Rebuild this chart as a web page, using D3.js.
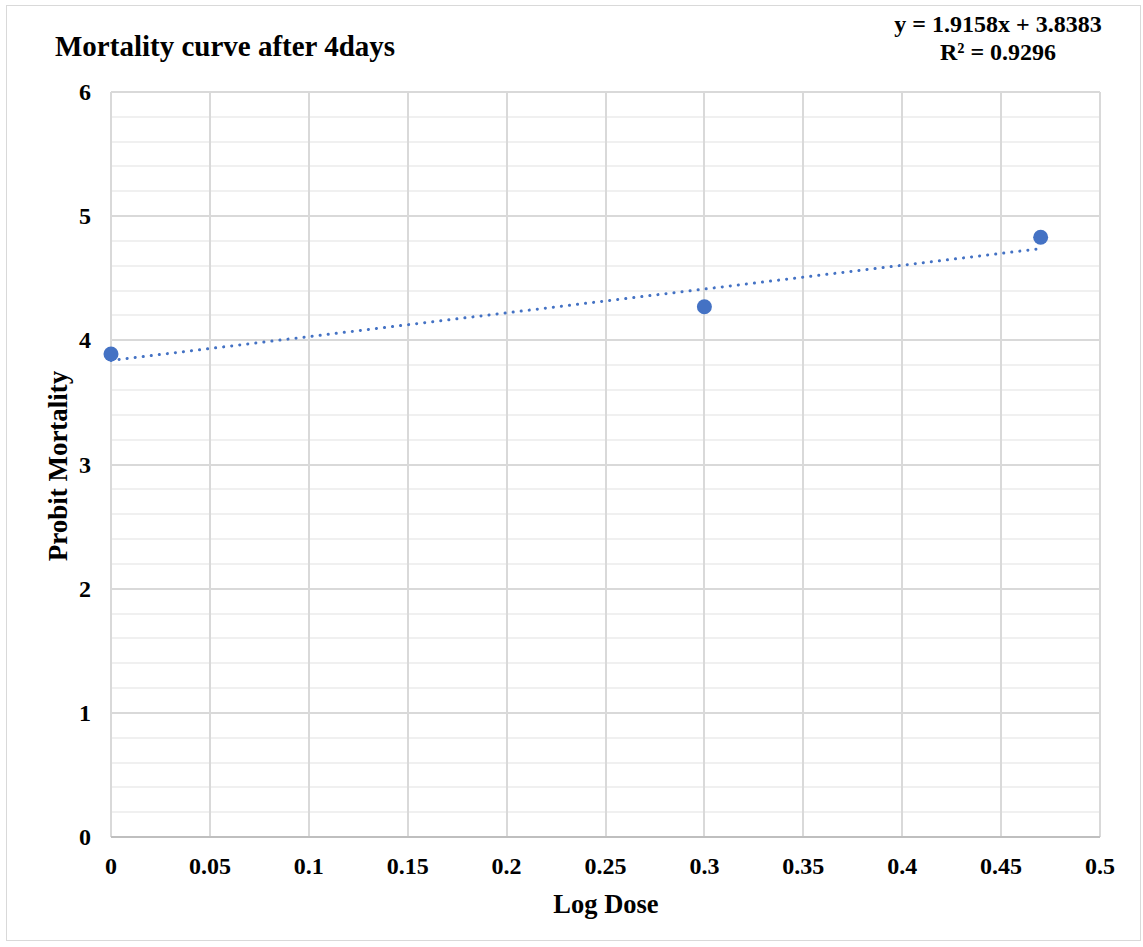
<!DOCTYPE html>
<html>
<head>
<meta charset="utf-8">
<script src="https://cdn.jsdelivr.net/npm/d3@7"></script>
<style>
  body { margin: 0; background: #fff; }
  text { font-family: "Liberation Serif", "Times New Roman", serif; font-weight: bold; fill: #000; }
</style>
</head>
<body>
<div class="container"></div>
<script>
var logDose = [0, 0.3, 0.47];
var probit = [3.89, 4.27, 4.83];
var slope = 1.9158;
var intercept = 3.8383;
var xTicks = [0, 0.05, 0.1, 0.15, 0.2, 0.25, 0.3, 0.35, 0.4, 0.45, 0.5];
var yTicks = [0, 1, 2, 3, 4, 5, 6];

var width = 1143, height = 947;
var plotLeft = 111, plotRight = 1100, plotTop = 92, plotBottom = 837;

var svg = d3
	.select('.container')
	.append('svg')
	.attr('width', width)
	.attr('height', height);

// chart border
svg.append('rect')
	.attr('x', 6.5).attr('y', 5.5)
	.attr('width', 1134).attr('height', 935)
	.attr('fill', 'none')
	.attr('stroke', '#d9d9d9');

var x = d3.scaleLinear().domain([0, 0.5]).range([plotLeft, plotRight]);
var y = d3.scaleLinear().domain([0, 6]).range([plotBottom, plotTop]);

// minor horizontal gridlines
var minor = d3.range(0, 6, 0.2).filter(function(v) {
	return Math.abs(v - Math.round(v)) > 0.01;
});
svg.append('g')
	.selectAll('line')
	.data(minor)
	.enter()
	.append('line')
	.attr('x1', plotLeft).attr('x2', plotRight)
	.attr('y1', function(d) { return Math.round(y(d)); })
	.attr('y2', function(d) { return Math.round(y(d)); })
	.attr('stroke', '#f0f0f0')
	.attr('stroke-width', 2);

// major gridlines
svg.append('g')
	.selectAll('line')
	.data(yTicks)
	.enter()
	.append('line')
	.attr('x1', plotLeft).attr('x2', plotRight)
	.attr('y1', function(d) { return Math.round(y(d)); })
	.attr('y2', function(d) { return Math.round(y(d)); })
	.attr('stroke', '#d9d9d9')
	.attr('stroke-width', 2);

svg.append('g')
	.selectAll('line')
	.data(xTicks)
	.enter()
	.append('line')
	.attr('x1', function(d) { return Math.round(x(d)); })
	.attr('x2', function(d) { return Math.round(x(d)); })
	.attr('y1', plotTop).attr('y2', plotBottom)
	.attr('stroke', '#d9d9d9')
	.attr('stroke-width', 2);

// bottom axis line
svg.append('line')
	.attr('x1', plotLeft).attr('x2', plotRight)
	.attr('y1', plotBottom).attr('y2', plotBottom)
	.attr('stroke', '#bfbfbf')
	.attr('stroke-width', 2);

// tick labels
svg.append('g')
	.selectAll('text')
	.data(xTicks)
	.enter()
	.append('text')
	.attr('x', function(d) { return x(d); })
	.attr('y', 874)
	.attr('text-anchor', 'middle')
	.style('font-size', '24px')
	.text(function(d) { return d; });

svg.append('g')
	.selectAll('text')
	.data(yTicks)
	.enter()
	.append('text')
	.attr('x', 91)
	.attr('y', function(d) { return y(d) + 8; })
	.attr('text-anchor', 'end')
	.style('font-size', '24px')
	.text(function(d) { return d; });

// trendline
var trend = [0, d3.max(logDose)];
svg.append('line')
	.attr('x1', x(trend[0]))
	.attr('y1', y(intercept + slope * trend[0]))
	.attr('x2', x(trend[1]))
	.attr('y2', y(intercept + slope * trend[1]))
	.attr('stroke', '#4472c4')
	.attr('stroke-width', 3)
	.attr('stroke-linecap', 'round')
	.attr('stroke-dasharray', '0.1,8');

// points
svg.append('g')
	.selectAll('circle')
	.data(logDose)
	.enter()
	.append('circle')
	.attr('cx', function(d) { return x(d); })
	.attr('cy', function(d, i) { return y(probit[i]); })
	.attr('r', 7.5)
	.attr('fill', '#4472c4');

// titles
svg.append('text')
	.attr('x', 55).attr('y', 56)
	.style('font-size', '29px')
	.text('Mortality curve after 4days');

svg.append('text')
	.attr('x', 606).attr('y', 913)
	.attr('text-anchor', 'middle')
	.style('font-size', '26.5px')
	.text('Log Dose');

svg.append('text')
	.attr('transform', 'translate(67, 466) rotate(-90)')
	.attr('text-anchor', 'middle')
	.style('font-size', '27px')
	.text('Probit Mortality');

// equation label
var eq = svg.append('text')
	.attr('text-anchor', 'middle')
	.style('font-size', '24px');
eq.append('tspan').attr('x', 998).attr('y', 32)
	.text('y = ' + slope + 'x + ' + intercept);
eq.append('tspan').attr('x', 998).attr('y', 60)
	.text('R\u00b2 = 0.9296');
</script>
</body>
</html>
